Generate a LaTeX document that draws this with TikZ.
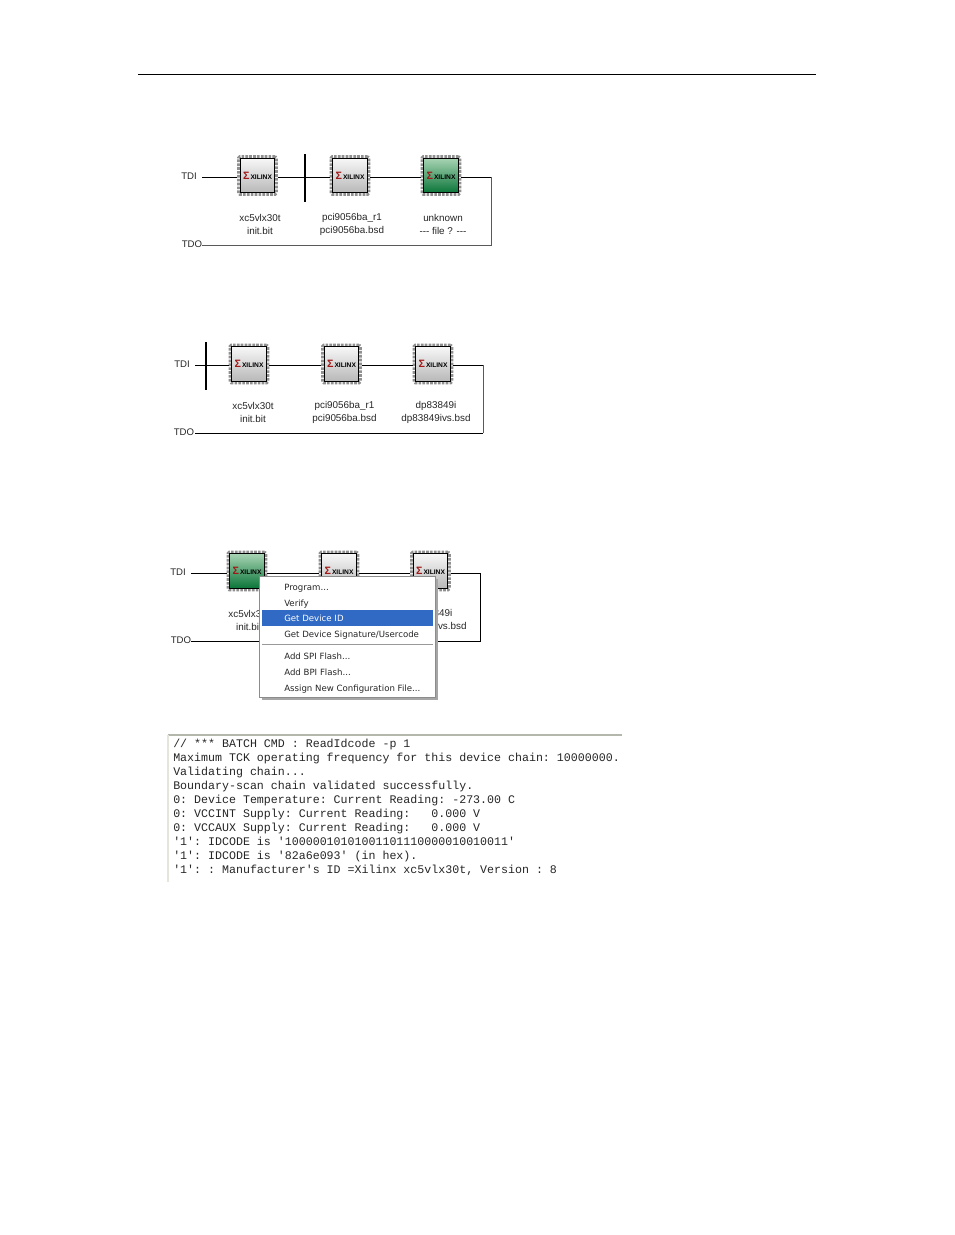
\documentclass[tikz,border=0pt]{standalone}
\usepackage{fontspec}
\setmainfont{Liberation Sans}
\setmonofont{Liberation Mono}
\newfontfamily\menufont{DejaVu Sans}
\definecolor{sel}{HTML}{316AC5}
\definecolor{logored}{HTML}{A01818}
\definecolor{pincol}{HTML}{909090}
\definecolor{consoleedge}{HTML}{B4B8AC}
\definecolor{consoleleft}{HTML}{E4E6DC}
\definecolor{menuedge}{HTML}{8C8C8C}
\definecolor{greenhi}{HTML}{A8D4B4}
\definecolor{greenlo}{HTML}{0A7538}
\tikzset{
  wire/.style={draw=black,line width=.6pt},
  tdowire/.style={draw=black!65,line width=.6pt},
  marker/.style={draw=black,line width=1.5pt},
  pinring/.style={draw=pincol,line width=2.2pt,dash pattern=on 2pt off .9pt,minimum size=28.4pt,inner sep=0pt,rounded corners=1pt},
  chipbody/.style={draw=black,line width=.6pt,minimum size=26pt,inner sep=0pt,shading angle=45},
  graychip/.style={chipbody,top color=white!97!black,bottom color=black!28},
  greenchip/.style={chipbody,top color=greenhi,bottom color=greenlo},
  logotxt/.style={inner sep=0pt,font=\fontsize{5pt}{5pt}\selectfont\bfseries},
  lbl/.style={inner sep=0pt,align=center,font=\fontsize{7.4pt}{9.1pt}\selectfont,text=black!85},
  port/.style={inner sep=0pt,font=\fontsize{7.2pt}{8pt}\selectfont,text=black!85},
  menubox/.style={draw=menuedge,fill=white,line width=.5pt,minimum width=132pt,minimum height=90.8pt,inner sep=0pt},
  menushadow/.style={fill=black!35,minimum width=132pt,minimum height=90.8pt,inner sep=0pt},
  menuitem/.style={inner sep=0pt,anchor=base west,font=\menufont\fontsize{6.45pt}{8pt}\selectfont,text=black!85},
  selbar/.style={fill=sel,minimum width=128.2pt,minimum height=12pt,inner sep=0pt},
  consoletxt/.style={inner sep=0pt,anchor=base west,font=\ttfamily\fontsize{8.72pt}{10pt}\selectfont,text=black!85},
}
\newcommand{\chipat}[4]{%
  \node[pinring] (#1p) at (#2,#3) {};
  \node[#4] (#1) at (#2,#3) {};
  \node[logotxt] (#1l) at (#2,#3) {\textcolor{logored}{\fontsize{8pt}{8pt}\selectfont Σ}\,XILINX};
}
\begin{document}
\begin{tikzpicture}[x=.75pt,y=-.75pt]
\useasboundingbox (0,0) rectangle (954,1235);
\fill[white] (0,0) rectangle (954,1235);
\coordinate (ruleL) at (138,74);
\coordinate (ruleR) at (816,74);
\draw[line width=.6pt] (ruleL) -- (ruleR);

% --- first chain
\node[port] (tdiA) at (189,176) {TDI};
\node[port] (tdoA) at (192,244) {TDO};
\coordinate (tdiAe) at (202,177);
\coordinate (tdoAe) at (202,245);
\coordinate (cornAa) at (491,177);
\coordinate (cornAb) at (491,245);
\coordinate (barAt) at (305,154);
\coordinate (barAb) at (305,202);
\chipat{a1}{257.5}{175.5}{graychip}
\chipat{a2}{350}{175.5}{graychip}
\chipat{a3}{441}{175.5}{greenchip}
\draw[wire] (tdiAe) -- (a1p.west |- tdiAe);
\draw[wire] (a1p.east |- tdiAe) -- (a2p.west |- tdiAe);
\draw[wire] (a2p.east |- tdiAe) -- (a3p.west |- tdiAe);
\draw[wire] (a3p.east |- tdiAe) -- (cornAa);
\draw[tdowire] (cornAa) -- (cornAb) -- (tdoAe);
\draw[marker] (barAt) -- (barAb);
\node[lbl] (a1t) at (260,224.5) {xc5vlx30t\\init.bit};
\node[lbl] (a2t) at (352,224.5) {pci9056ba\_r1\\pci9056ba.bsd};
\node[lbl] (a3t) at (443,224.5) {unknown\\-{}-{}- file ? -{}-{}-};

% --- second chain
\node[port] (tdiB) at (182,364) {TDI};
\node[port] (tdoB) at (184,432) {TDO};
\coordinate (tdiBe) at (195,365);
\coordinate (tdoBe) at (195,433);
\coordinate (cornBa) at (483,365);
\coordinate (cornBb) at (483,433);
\coordinate (barBt) at (206,342);
\coordinate (barBb) at (206,390);
\chipat{b1}{249}{364}{graychip}
\chipat{b2}{341.5}{364}{graychip}
\chipat{b3}{433}{364}{graychip}
\draw[wire] (tdiBe) -- (b1p.west |- tdiBe);
\draw[wire] (b1p.east |- tdiBe) -- (b2p.west |- tdiBe);
\draw[wire] (b2p.east |- tdiBe) -- (b3p.west |- tdiBe);
\draw[wire] (b3p.east |- tdiBe) -- (cornBa);
\draw[tdowire] (cornBa) -- (cornBb);
\draw[wire] (cornBb) -- (tdoBe);
\draw[marker] (barBt) -- (barBb);
\node[lbl] (b1t) at (253,412.5) {xc5vlx30t\\init.bit};
\node[lbl] (b2t) at (344.5,412.5) {pci9056ba\_r1\\pci9056ba.bsd};
\node[lbl] (b3t) at (436,412.5) {dp83849i\\dp83849ivs.bsd};

% --- third chain
\node[port] (tdiC) at (178,572) {TDI};
\node[port] (tdoC) at (181,640) {TDO};
\coordinate (tdiCe) at (191,573);
\coordinate (tdoCe) at (191,641);
\coordinate (cornCa) at (480,573);
\coordinate (cornCb) at (480,641);
\chipat{c1}{247}{571}{greenchip}
\chipat{c2}{339}{571}{graychip}
\chipat{c3}{430.5}{571}{graychip}
\draw[wire] (tdiCe) -- (c1p.west |- tdiCe);
\draw[wire] (c1p.east |- tdiCe) -- (c2p.west |- tdiCe);
\draw[wire] (c2p.east |- tdiCe) -- (c3p.west |- tdiCe);
\draw[wire] (c3p.east |- tdiCe) -- (cornCa);
\draw[wire] (cornCa) -- (cornCb) -- (tdoCe);
\node[lbl] (c1t) at (249,620.5) {xc5vlx30t\\init.bit};
\node[lbl] (c3t) at (432,620.5) {dp83849i\\dp83849ivs.bsd};

% --- context menu
\node[menushadow] (mshadow) at (349.5,639.5) {};
\node[menubox] (menu) at (347.3,637.2) {};
\node[selbar] (msel) at (347.5,618) {};
\coordinate (sepL) at (262,644.5);
\coordinate (sepR) at (433,644.5);
\draw[black!40,line width=.6pt] (sepL) -- (sepR);
\node[menuitem] (m1) at (284,590.5) {Program...};
\node[menuitem] (m2) at (284,606) {Verify};
\node[menuitem,text=white] (m3) at (284,621.5) {Get Device ID};
\node[menuitem] (m4) at (284,637) {Get Device Signature/Usercode};
\node[menuitem] (m5) at (284,659) {Add SPI Flash...};
\node[menuitem] (m6) at (284,675) {Add BPI Flash...};
\node[menuitem] (m7) at (284,691) {Assign New Configuration File...};

% --- console
\coordinate (conTL) at (168,735);
\coordinate (conTR) at (622,735);
\coordinate (conBL) at (168,882);
\draw[consoleedge,line width=.8pt] (conTL) -- (conTR);
\draw[consoleleft,line width=.8pt] (conTL) -- (conBL);
\node[consoletxt] (l1) at (173,747) {// *** BATCH CMD : ReadIdcode -p 1};
\node[consoletxt] (l2) at (173,761) {Maximum TCK operating frequency for this device chain: 10000000.};
\node[consoletxt] (l3) at (173,775) {Validating chain...};
\node[consoletxt] (l4) at (173,789) {Boundary-scan chain validated successfully.};
\node[consoletxt] (l5) at (173,803.2) {0: Device Temperature: Current Reading: -273.00 C};
\node[consoletxt] (l6) at (173,817.4) {0: VCCINT Supply: Current Reading:\ \ \ 0.000 V};
\node[consoletxt] (l7) at (173,831.4) {0: VCCAUX Supply: Current Reading:\ \ \ 0.000 V};
\node[consoletxt] (l8) at (173,845.6) {'1': IDCODE is '10000010101001101110000010010011'};
\node[consoletxt] (l9) at (173,859.6) {'1': IDCODE is '82a6e093' (in hex).};
\node[consoletxt] (l10) at (173,873.6) {'1': : Manufacturer's ID =Xilinx xc5vlx30t, Version : 8};
\end{tikzpicture}
\end{document}
